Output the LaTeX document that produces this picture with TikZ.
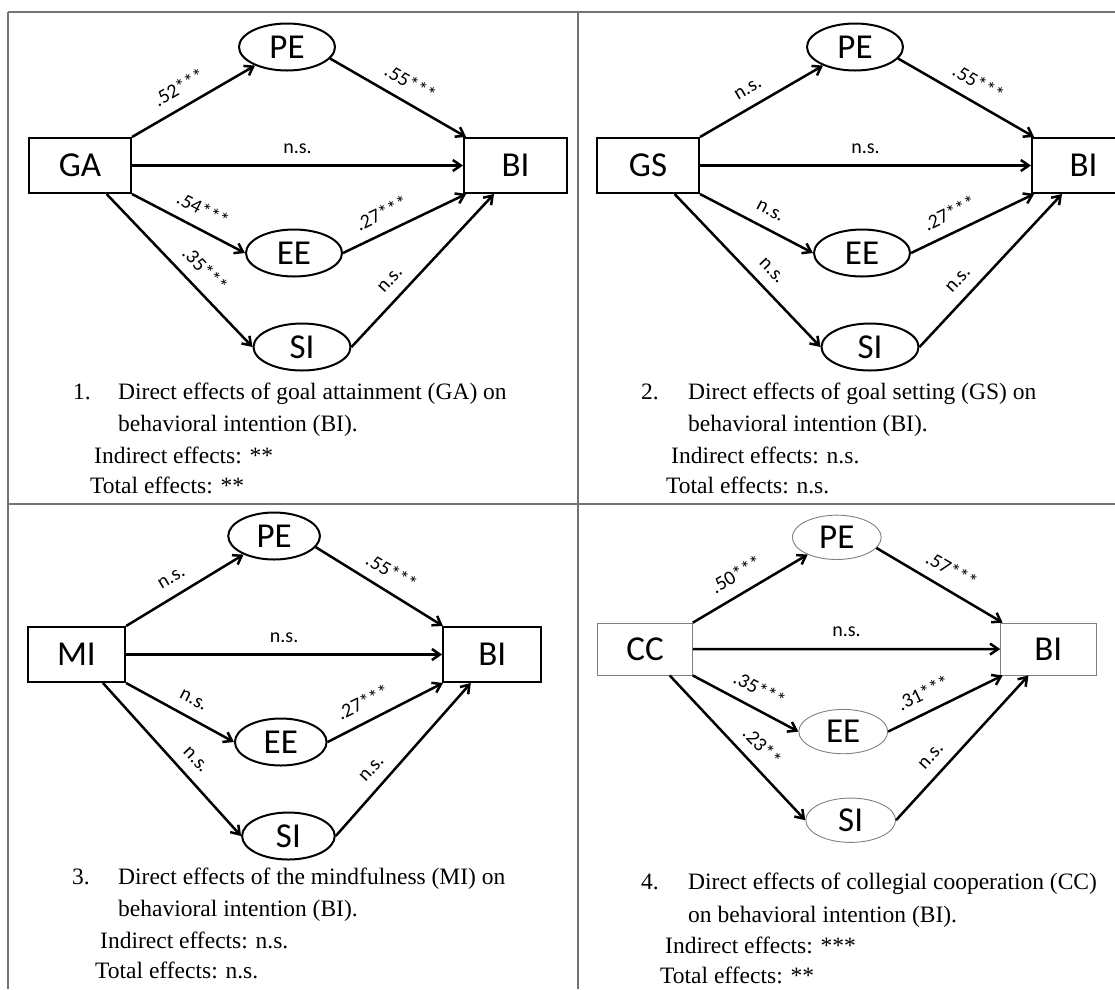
\documentclass[tikz,border=0pt]{standalone}
\usepackage{fontspec}
\setmainfont{Liberation Serif}
\newfontfamily\carlito{Carlito}
\usetikzlibrary{arrows.meta,shapes.geometric}

\tikzset{
	varbox/.style = {draw, rectangle, inner sep=0pt, font=\carlito\fontsize{35}{40}\selectfont},
	latent/.style = {draw, ellipse, inner sep=0pt, font=\carlito\fontsize{35}{40}\selectfont},
	heavy/.style = {line width=2pt},
	faint/.style = {line width=0.9pt, draw=black!50},
	effect/.style = {line width=2.5pt, ->},
	coef/.style = {font=\carlito\fontsize{20}{22}\selectfont, inner sep=2pt, sloped, above=9pt},
	caption/.style = {anchor=base west, inner sep=0pt, font=\fontsize{23.5}{28}\selectfont},
	frameline/.style = {line width=1.4pt, black!55}
}

\begin{document}
\begin{tikzpicture}[x=1pt, y=-1pt, >={Straight Barb[length=8pt,width=11pt]}]
					\useasboundingbox (0,0) rectangle (1115,989);

					% The lines that split the page into four panels
						\draw [frameline] (8,12) -- (1115,12);
						\draw [frameline] (8,504) -- (1115,504);
						\draw [frameline] (8,12) -- (8,989);
						\draw [frameline] (578,12) -- (578,989);

					% One path model per panel: shift, scale, predictor, outline and the seven coefficients
						\foreach \ox/\oy/\sx/\sy/\src/\lk/\a/\b/\c/\d/\e/\f/\g in {
							0/0/1/1/GA/heavy/.52***/.55***/n.s./.54***/.27***/.35***/n.s.,
							568/0/1/1/GS/heavy/n.s./.55***/n.s./n.s./.27***/n.s./n.s.,
							0/489/.955/1/MI/heavy/n.s./.55***/n.s./n.s./.27***/n.s./n.s.,
							571/493/.926/.943/CC/faint/.50***/.57***/n.s./.35***/.31***/.23**/n.s.} {
							\begin{scope}[shift={(\ox,\oy)}, xscale=\sx, yscale=\sy]
								\node [varbox, \lk, minimum width=\sx*102pt, minimum height=\sy*55pt] (\src) at (80,165.5) {\src};
								\node [varbox, \lk, minimum width=\sx*103pt, minimum height=\sy*55pt] (BI\src) at (515.5,165.5) {BI};
								\node [latent, \lk, minimum width=\sx*96pt, minimum height=\sy*47pt] (PE\src) at (287,47) {PE};
								\node [latent, \lk, minimum width=\sx*96pt, minimum height=\sy*47pt] (EE\src) at (294,253) {EE};
								\node [latent, \lk, minimum width=\sx*97pt, minimum height=\sy*47pt] (SI\src) at (302,347) {SI};

								\draw [effect] (\src.north east) -- node [coef, pos=.46] {\a} (PE\src);
								\draw [effect] (PE\src.-15) -- node [coef, pos=.52] {\b} (BI\src.150);
								\draw [effect] (\src) -- node [coef, pos=.5] {\c} (BI\src);
								\draw [effect] (\src.south east) -- node [coef, pos=.55] {\d} (EE\src.west);
								\draw [effect] (EE\src.east) -- node [coef, pos=.38] {\e} (BI\src.-150);
								\draw [effect] (\src.-47) -- node [coef, pos=.58] {\f} (SI\src.west);
								\draw [effect] (SI\src.east) -- node [coef, pos=.36] {\g} (BI\src.-127);
							\end{scope}
							}

					% The captions under the models
						\foreach \x/\y/\t [count=\i] in {
							73/399/1.,
							118/399/Direct effects of goal attainment (GA) on,
							118/431/behavioral intention (BI).,
							94/463/Indirect effects: **,
							90/493/Total effects: **,
							641/399/2.,
							688/399/Direct effects of goal setting (GS) on,
							688/431/behavioral intention (BI).,
							671/463/Indirect effects: n.s.,
							666/493/Total effects: n.s.,
							72/884/3.,
							118/884/Direct effects of the mindfulness (MI) on,
							118/916/behavioral intention (BI).,
							100/948/Indirect effects: n.s.,
							95/978/Total effects: n.s.,
							641/889/4.,
							688/889/Direct effects of collegial cooperation (CC),
							688/922/on behavioral intention (BI).,
							665/953/Indirect effects: ***,
							660/983/Total effects: **} {
								\node [caption] (cap\i) at (\x,\y) {\t};
								}

					\end{tikzpicture}
\end{document}
